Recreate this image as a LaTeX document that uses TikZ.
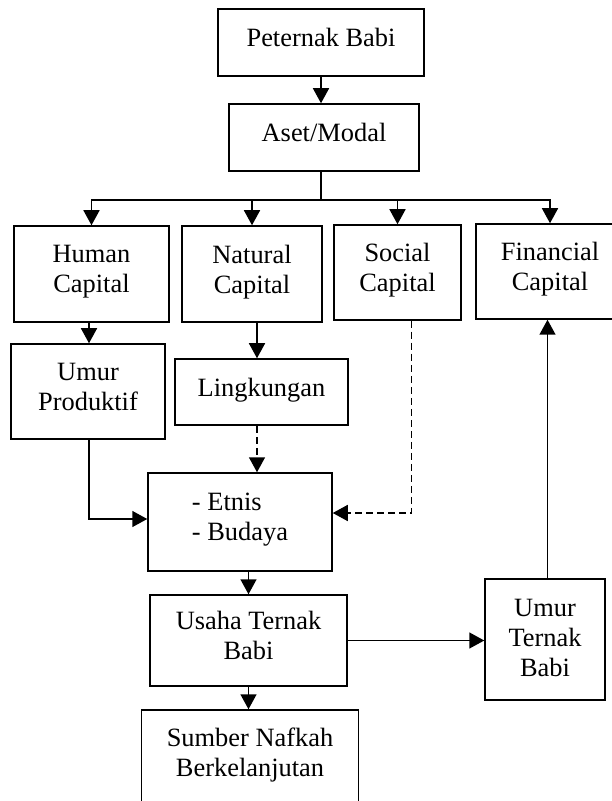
\documentclass[tikz,border=0pt]{standalone}
\usepackage{fontspec}
\setmainfont{Liberation Serif}
\usetikzlibrary{arrows.meta}
\begin{document}
\begin{tikzpicture}[x=0.5pt, y=-0.5pt, line width=0.75pt,
  box/.style={draw, rectangle, align=center, text depth=5pt, font=\fontsize{13.2pt}{15pt}\selectfont},
  arr/.style={-{Triangle[length=7.5pt,width=8pt]}},
  dasharr/.style={arr, dash pattern=on 3.5pt off 2pt}]
\useasboundingbox (0,0) rectangle (611,801);
\node[box, minimum width=103pt, minimum height=33.5pt] (PB) at (321,42.5){Peternak Babi};
\node[box, minimum width=95pt, minimum height=33.5pt] (AM) at (324,137.5){Aset/Modal};
\node[box, minimum width=77.5pt, minimum height=48pt] (HC) at (91.5,274){Human\\Capital};
\node[box, minimum width=70pt, minimum height=48pt] (NC) at (252,274){Natural\\Capital};
\node[box, minimum width=63.5pt, minimum height=47.5pt] (SC) at (397.5,272.5){Social\\Capital};
\node[box, minimum width=74pt, minimum height=47.5pt] (FC) at (550,271.5){Financial\\Capital};
\node[box, minimum width=77pt, minimum height=47.5pt] (UP) at (88,391.5){Umur\\Produktif};
\node[box, minimum width=86.5pt, minimum height=33pt] (LK) at (261.5,392){Lingkungan};
\node[box, align=left, minimum width=92pt, minimum height=49pt] (EB) at (240,522){- Etnis\\- Budaya};
\node[box, minimum width=98.5pt, minimum height=45.5pt] (UT) at (248.5,640.5){Usaha Ternak\\Babi};
\node[box, text depth=2pt, minimum width=60pt, minimum height=60.5pt] (UTB) at (545,639.5){Umur\\Ternak\\Babi};
\node[box, minimum width=108.5pt, minimum height=47.5pt] (SN) at (250,757.5){Sumber Nafkah\\Berkelanjutan};

\coordinate (S) at (321,200);
\coordinate (U) at (89,519);
\coordinate (L) at (257,0);
\coordinate (D) at (411.5,513);
\coordinate (F) at (547.5,0);

\draw[arr] (PB.south -| S)--(AM.north -| S);
\draw (AM.south -| S)--(S);
\draw[arr] (S) -| (HC);
\draw[arr] (S) -| (NC);
\draw[arr] (S) -| (SC);
\draw[arr] (S) -| (FC);

\draw[arr] (HC.south -| U)--(UP.north -| U);
\draw[arr] (UP.south -| U)--(U)--(EB.west |- U);
\draw[arr] (NC.south -| L)--(LK.north -| L);
\draw[dasharr] (LK.south -| L)--(EB.north -| L);
\draw[dasharr] (SC.south -| D)--(D)--(EB.east |- D);

\draw[arr] (EB.south -| UT)--(UT.north);
\draw[arr] (UT.east)--(UT.east -| UTB.west);
\draw[arr] (UT.south)--(UT.south |- SN.north);
\draw[arr] (UTB.north -| F)--(FC.south -| F);
\end{tikzpicture}
\end{document}
